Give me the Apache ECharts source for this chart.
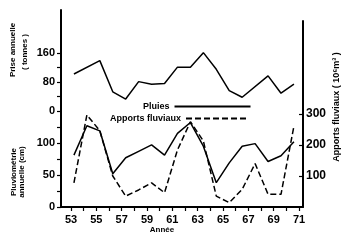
<!DOCTYPE html>
<html><head><meta charset="utf-8">
<script src="https://cdn.jsdelivr.net/npm/echarts@6/dist/echarts.min.js"></script>
<style>html,body{margin:0;padding:0;background:#fff}#c{width:350px;height:242px}</style>
</head><body><div id="c"></div>
<script>
// Top panel: annual catch (tonnes)
const catchYears = [53,55,56,57,58,59,60,61,62,63,64,65,66,68,69,70];
const catchValues = [102,139,53,33,81,74,76,121,121,161,115,56,38,97,49,74];
// Bottom panel: years
const years = [53,54,55,56,57,58,59,60,61,62,63,64,65,66,67,68,69,70];
// Rainfall (cm)
const rainValues = [81,127,119,52,77,87,97,81,115,132,95,38,69,95,99,71,80,102];
// River inflow (10^6 m3)
const inflowValues = [78,297,246,100,35,55,78,46,184,275,213,35,14,57,140,41,41,261];
// Tick labels
const xLabels = [53,55,57,59,61,63,65,67,69,71];
const xTicks = [53,54,55,56,57,58,59,60,61,62,63,64,65,66,67,68,69,70,71];
const catchLabels = [0,80,160];
const catchTicks = [0,40,80,120,160];
const rainLabels = [0,50,100];
const rainTicks = [0,25,50,75,100,125];
const inflowLabels = [100,200,300];

const FONT = 'Liberation Sans';
const lbl = {color:'#000', fontFamily:FONT, fontWeight:'bold', fontSize:11};
const chart = echarts.init(document.getElementById('c'));
const pair = (xs, ys) => xs.map((x,i)=>[x, ys[i]]);
const legText = {color:'#000', fontFamily:FONT, fontWeight:'bold', fontSize:9};
const hiddenX = (g) => ({type:'value', gridIndex:g, min:52.0, max:70.7, position:'bottom', show:false});
const rot = (text, x, y, size) => ({type:'text', x:x, y:y, rotation:Math.PI/2,
  style:{text:text, fill:'#000', font:'bold ' + size + 'px "Liberation Sans"', textAlign:'center', textVerticalAlign:'middle'}});
const box = {left:61, right:47, top:10, bottom:35, show:false};
chart.setOption({
  animation:false,
  grid:[
    Object.assign({}, box),
    Object.assign({}, box),
    Object.assign({}, box),
    Object.assign({}, box, {top:21})
  ],
  xAxis:[
    {type:'value', gridIndex:0, min:52.21, max:71.31, position:'bottom',
      axisLine:{show:true, onZero:false, lineStyle:{color:'#000', width:2}},
      axisTick:{show:true, customValues:xTicks, length:4, lineStyle:{color:'#000', width:1.2}},
      axisLabel:Object.assign({customValues:xLabels, margin:7}, lbl), splitLine:{show:false}},
    hiddenX(1), hiddenX(2), hiddenX(3)
  ],
  yAxis:[
    {type:'value', gridIndex:0, position:'left', min:-264.8, max:278.6,
      axisLine:{show:true, onZero:false, lineStyle:{color:'#000', width:2}},
      axisTick:{show:true, customValues:catchTicks, length:4, lineStyle:{color:'#000', width:1.2}},
      axisLabel:Object.assign({customValues:catchLabels, margin:6}, lbl), splitLine:{show:false}},
    {type:'value', gridIndex:1, position:'left', min:-264.8, max:278.6, show:false},
    {type:'value', gridIndex:2, position:'left', min:0, max:307.8,
      axisLine:{show:false, onZero:false},
      axisTick:{show:true, customValues:rainTicks, length:4, lineStyle:{color:'#000', width:1.2}},
      axisLabel:Object.assign({customValues:rainLabels, margin:6}, lbl), splitLine:{show:false}},
    {type:'value', gridIndex:3, position:'right', min:0, max:600,
      axisLine:{show:true, onZero:false, lineStyle:{color:'#000', width:2}},
      axisTick:{show:true, inside:true, customValues:inflowLabels, length:4, lineStyle:{color:'#000', width:1.2}},
      axisLabel:Object.assign({customValues:inflowLabels, margin:3}, lbl, {fontSize:12}), splitLine:{show:false}}
  ],
  legend:[
    {data:['Pluies'], left:138, top:97, align:'right', itemWidth:76, itemHeight:10,
      itemStyle:{opacity:0}, textStyle:legText},
    {data:['Apports fluviaux'], left:105, top:109, align:'right', itemWidth:60, itemHeight:10,
      itemStyle:{opacity:0}, textStyle:legText}
  ],
  series:[
    {name:'Prise', type:'line', xAxisIndex:1, yAxisIndex:1, symbol:'none',
      data:pair(catchYears, catchValues), lineStyle:{color:'#000', width:1.5}, itemStyle:{color:'#000'}},
    {name:'Pluies', type:'line', xAxisIndex:2, yAxisIndex:2, symbol:'none',
      data:pair(years, rainValues), lineStyle:{color:'#000', width:1.5}, itemStyle:{color:'#000'}},
    {name:'Apports fluviaux', type:'line', xAxisIndex:3, yAxisIndex:3, symbol:'none',
      data:pair(years, inflowValues), lineStyle:{color:'#000', width:1.5, type:[6,3]}, itemStyle:{color:'#000'}}
  ],
  graphic:[
    rot('Prise annuelle', 13, 50, 8),
    rot('( tonnes )', 25, 52, 8),
    rot('Pluviométrie', 14, 172, 8),
    rot('annuelle (cm)', 22, 172, 8),
    rot('Apports fluviaux ( 10⁶m³ )', 337, 107, 9),
    {type:'text', x:162, y:230, style:{text:'Année', fill:'#000', font:'bold 8px "Liberation Sans"', textAlign:'center', textVerticalAlign:'middle'}}
  ]
});
</script></body></html>
